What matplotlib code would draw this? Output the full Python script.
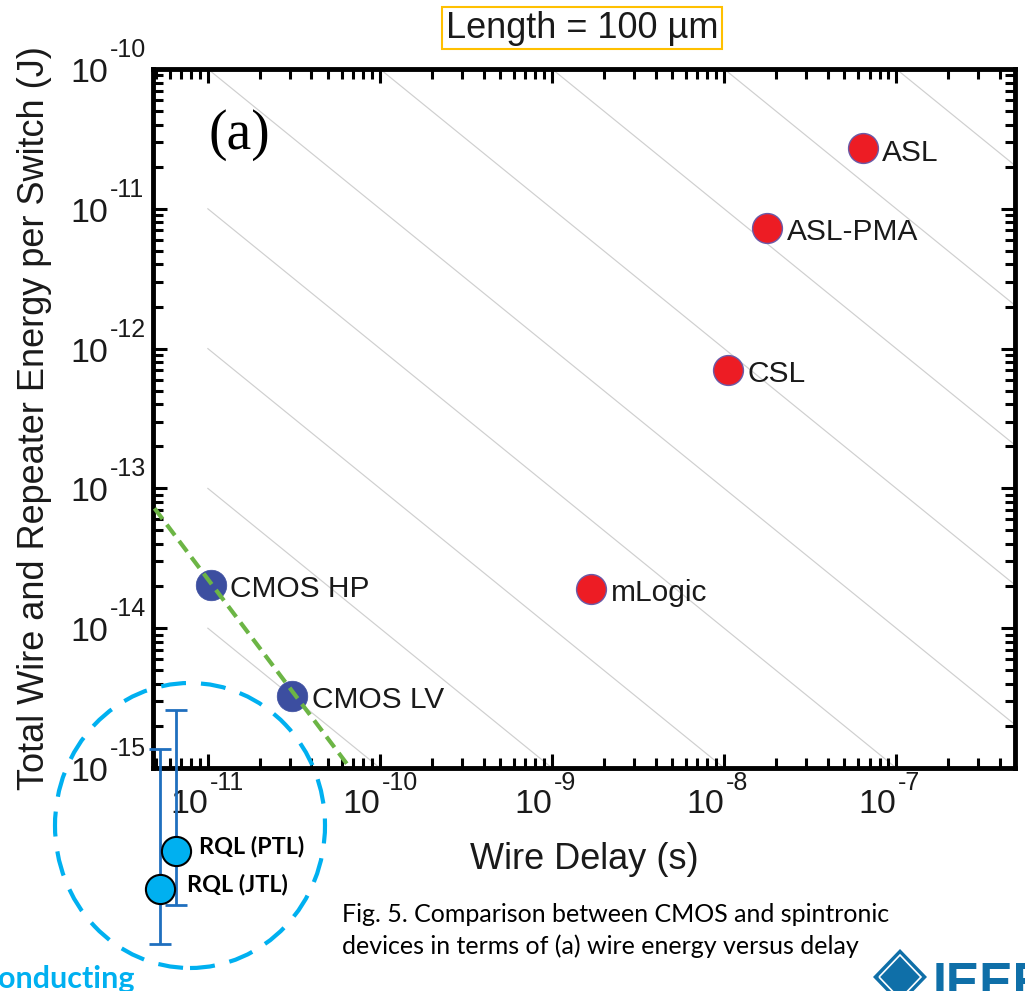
import matplotlib
matplotlib.use('Agg')
import matplotlib.pyplot as plt
from matplotlib.patches import Ellipse, Polygon
from matplotlib.ticker import FixedLocator, NullFormatter
import numpy as np

# spintronic devices: wire delay (s), energy per switch (J)
spin_names = ['ASL', 'ASL-PMA', 'CSL', 'mLogic']
spin_delay = [6.4e-8, 1.78e-8, 1.05e-8, 1.69e-9]
spin_energy = [2.7e-11, 7.3e-12, 7.0e-13, 1.9e-14]

# CMOS devices
cmos_names = ['CMOS HP', 'CMOS LV']
cmos_delay = [1.04e-11, 3.1e-11]
cmos_energy = [2.05e-14, 3.3e-15]

# superconducting RQL points (drawn below the axis, as in the slide)
rql_names = ['RQL (PTL)', 'RQL (JTL)']
rql_delay = [6.5e-12, 5.3e-12]
rql_energy = [2.55e-16, 1.36e-16]
rql_err_low = [1.05e-16, 5.5e-17]
rql_err_high = [2.6e-15, 1.37e-15]

# green CMOS trend line
trend_delay = [4.9e-12, 6.7e-11]
trend_energy = [7.2e-14, 1e-15]

# constant energy-delay product guide lines (J*s)
edp_levels = [1e-25, 1e-24, 1e-23, 1e-22, 1e-21, 1e-20, 1e-19, 1e-18, 1e-17]
edp_delay = np.array([1e-11, 1e-6])

x_ticks = [1e-11, 1e-10, 1e-9, 1e-8, 1e-7]
y_ticks = [1e-15, 1e-14, 1e-13, 1e-12, 1e-11, 1e-10]

plt.rcParams['font.family'] = ['Liberation Sans', 'DejaVu Sans']
TXT = '#1a1a1a'

W, H = 1025, 991
fig = plt.figure(figsize=(W / 100, H / 100), dpi=100)
ax = fig.add_axes([153 / W, (H - 768) / H, (1015 - 153) / W, (768 - 69) / H])

ax.set_xscale('log')
ax.set_yscale('log')
ax.set_xlim(4.8e-12, 4.9e-7)
ax.set_ylim(1e-15, 1e-10)

for edp in edp_levels:
    ax.plot(edp_delay, edp / edp_delay, color='#cfcfcf', lw=0.85, zorder=1)

ax.plot(trend_delay, trend_energy, color='#6cb545', lw=3.0,
        linestyle=(0, (3.2, 1.7)), zorder=4)

ax.scatter(spin_delay, spin_energy, s=21.5 ** 2, color='#ed1c24',
           edgecolors='#6a5aa8', linewidths=1.0, zorder=3)
ax.scatter(cmos_delay, cmos_energy, s=22 ** 2, color='#3c4ea0',
           edgecolors='#3c4ea0', linewidths=0.5, zorder=3)

for name, xv, yv in zip(spin_names + cmos_names, spin_delay + cmos_delay,
                        spin_energy + cmos_energy):
    ax.annotate(name, (xv, yv), xytext=(14, -3), textcoords='offset points',
                ha='left', va='center', fontsize=21.5, color=TXT, zorder=5)

# RQL error bars and markers sit outside the axes frame
rql_yerr = [np.array(rql_energy) - np.array(rql_err_low),
            np.array(rql_err_high) - np.array(rql_energy)]
eb = ax.errorbar(rql_delay, rql_energy, yerr=rql_yerr, fmt='none',
                 ecolor='#1f6fbe', elinewidth=2.0, capsize=8, capthick=2.0,
                 zorder=6)
for art in eb.get_children():
    art.set_clip_on(False)
sc = ax.scatter(rql_delay, rql_energy, s=21 ** 2, color='#00b0f0',
                edgecolors='black', linewidths=1.5, zorder=7)
sc.set_clip_on(False)
for name, xv, yv, dx in zip(rql_names, rql_delay, rql_energy, [17, 19]):
    ax.annotate(name, (xv, yv), xytext=(dx, 3.5), textcoords='offset points',
                ha='left', va='center', fontsize=16.8, fontweight='bold',
                family='Lato', color='black', zorder=7, annotation_clip=False)

ax.text(0.064, 0.905, '(a)', transform=ax.transAxes,
        family='Liberation Serif', fontsize=40, ha='left', va='center')

# MATLAB-like frame and ticks
for sp in ax.spines.values():
    sp.set_linewidth(3.5)
ax.tick_params(which='both', direction='in', top=True, right=True,
               width=2.2, colors='black')
ax.tick_params(which='major', length=10)
ax.tick_params(which='minor', length=7)
ax.xaxis.set_major_locator(FixedLocator(x_ticks))
ax.yaxis.set_major_locator(FixedLocator(y_ticks))
for axis in (ax.xaxis, ax.yaxis):
    axis.set_major_formatter(NullFormatter())
    axis.set_minor_formatter(NullFormatter())

# tick labels as "10" with a raised exponent, MATLAB style
for v in x_ticks:
    e = '%d' % round(np.log10(v))
    ax.annotate('10', (v, 0), xycoords=('data', 'axes fraction'),
                xytext=(0, -32.4), textcoords='offset points', ha='right',
                va='baseline', fontsize=24.5, color=TXT, annotation_clip=False)
    ax.annotate(e, (v, 0), xycoords=('data', 'axes fraction'),
                xytext=(1.2, -15.8), textcoords='offset points', ha='left',
                va='baseline', fontsize=18, color=TXT, annotation_clip=False)
for v in y_ticks:
    e = '%d' % round(np.log10(v))
    ax.annotate('10', (0, v), xycoords=('axes fraction', 'data'),
                xytext=(-32.4, -9.4), textcoords='offset points', ha='right',
                va='baseline', fontsize=24.5, color=TXT, annotation_clip=False)
    ax.annotate(e, (0, v), xycoords=('axes fraction', 'data'),
                xytext=(-31, 8.6), textcoords='offset points', ha='left',
                va='baseline', fontsize=18, color=TXT, annotation_clip=False)

ax.set_xlabel('Wire Delay (s)', fontsize=26, color=TXT, labelpad=50)
ax.set_ylabel('Total Wire and Repeater Energy per Switch (J)', fontsize=26,
              color=TXT, labelpad=69)

# slide annotations
fig.text(582 / W, 1 - 28 / H, 'Length = 100 \u00b5m', fontsize=26,
         ha='center', va='center', color=TXT,
         bbox=dict(boxstyle='square,pad=0.1', fc='white', ec='#ffc000', lw=1.5))

circ = Ellipse((190 / W, 1 - 825.5 / H), 270 / W, 285 / H,
               transform=fig.transFigure, fill=False, ec='#00b0f0', lw=3.0,
               linestyle=(0, (6.0, 3.6)), zorder=8)
fig.add_artist(circ)

fig.text(342 / W, 1 - 915 / H, 'Fig. 5. Comparison between CMOS and spintronic',
         family='Lato', fontsize=18, ha='left', va='center', color='black')
fig.text(342 / W, 1 - 946 / H, 'devices in terms of (a) wire energy versus delay',
         family='Lato', fontsize=18, ha='left', va='center', color='black')
fig.text(-2 / W, 1 - 979 / H, 'onducting', family='Lato', fontweight='bold',
         fontsize=22, ha='left', va='center', color='#00b0f0')

# IEEE logo fragment
logo_c = '#0f6fa8'
cx, cy = 900, 977
fig.add_artist(Polygon([((cx - 27) / W, 1 - cy / H), (cx / W, 1 - (cy - 28) / H),
                        ((cx + 27) / W, 1 - cy / H), (cx / W, 1 - (cy + 28) / H)],
                       closed=True, transform=fig.transFigure, fc=logo_c, ec='none'))
fig.add_artist(Polygon([((cx - 21) / W, 1 - cy / H), (cx / W, 1 - (cy - 22) / H),
                        ((cx + 21) / W, 1 - cy / H), (cx / W, 1 - (cy + 22) / H)],
                       closed=True, transform=fig.transFigure, fc='none', ec='white',
                       lw=1.2))
fig.text(933 / W, 1 - 962 / H, 'IEEE', fontsize=36, fontweight='bold',
         ha='left', va='top', color=logo_c)

fig.savefig('out.png', dpi=100)
